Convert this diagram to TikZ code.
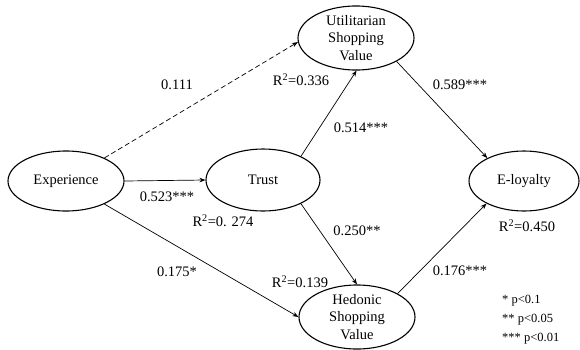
\documentclass[tikz,border=0pt]{standalone}
\usepackage{fontspec}
\setmainfont{Liberation Serif}
\usetikzlibrary{arrows.meta,shapes.geometric}
\begin{document}
\begin{tikzpicture}[x=1pt,y=-1pt,
  every node/.style={font=\fontsize{14.5}{17.5}\selectfont},
  latent/.style={ellipse,draw,line width=1.1pt,inner sep=0pt,align=center},
  path/.style={line width=0.7pt,-{Stealth[length=6pt,width=4.5pt]}},
  lbl/.style={inner sep=0pt}]
\useasboundingbox (0,0) rectangle (580,349);
\node[latent,minimum width=116pt,minimum height=60pt] (exp) at (66,181) {Experience};
\node[latent,minimum width=114pt,minimum height=62pt] (tru) at (263,180) {Trust};
\node[latent,minimum width=116pt,minimum height=62pt] (uti) at (356,38) {Utilitarian\\Shopping\\Value};
\node[latent,minimum width=116pt,minimum height=62pt] (hed) at (357,317) {Hedonic\\Shopping\\Value};
\node[latent,minimum width=110pt,minimum height=60pt] (loy) at (524,181) {E-loyalty};

\draw[path,dashed,dash pattern=on 5pt off 3pt] (exp.31) -- (uti.184);
\draw[path] (exp.0) -- (tru.180);
\draw[path] (exp.-31) -- (hed.180);
\draw[path] (tru.32) -- (uti.-89);
\draw[path] (tru.-32) -- (hed.90);
\draw[path] (uti.-30) -- (loy.148);
\draw[path] (hed.30) -- (loy.211);

\node[lbl] (l1) at (177,85) {0.111};
\node[lbl] (l2) at (301,80) {R\textsuperscript{2}=0.336};
\node[lbl] (l3) at (460,85) {0.589***};
\node[lbl] (l4) at (361,128) {0.514***};
\node[lbl] (l5) at (167,197) {0.523***};
\node[lbl] (l6) at (223,221) {R\textsuperscript{2}=0. 274};
\node[lbl] (l7) at (357,231) {0.250**};
\node[lbl] (l8) at (527,226) {R\textsuperscript{2}=0.450};
\node[lbl] (l9) at (177,272) {0.175*};
\node[lbl] (l10) at (300,282) {R\textsuperscript{2}=0.139};
\node[lbl] (l11) at (460,271) {0.176***};
\node[lbl,anchor=west,font=\fontsize{12.5}{15}\selectfont] (n1) at (502,301) {* p<0.1};
\node[lbl,anchor=west,font=\fontsize{12.5}{15}\selectfont] (n2) at (502,320) {** p<0.05};
\node[lbl,anchor=west,font=\fontsize{12.5}{15}\selectfont] (n3) at (502,339) {*** p<0.01};
\end{tikzpicture}
\end{document}
